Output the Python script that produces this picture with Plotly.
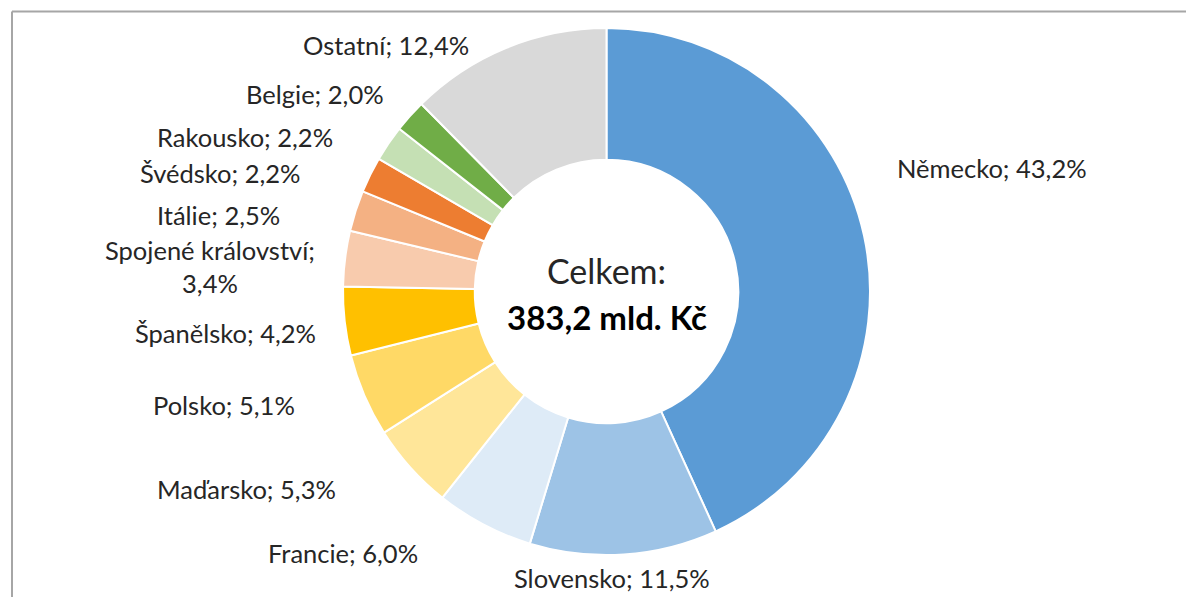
import plotly.graph_objects as go

# Export shares by destination country (% of total)
countries = ["Německo", "Slovensko", "Francie", "Maďarsko", "Polsko", "Španělsko",
             "Spojené království", "Itálie", "Švédsko", "Rakousko", "Belgie", "Ostatní"]
shares = [43.2, 11.5, 6.0, 5.3, 5.1, 4.2, 3.4, 2.5, 2.2, 2.2, 2.0, 12.4]
colors = ["#5B9BD5", "#9DC3E6", "#DEEBF7", "#FFE699", "#FFD966", "#FFC000",
          "#F8CBAD", "#F4B183", "#ED7D31", "#C5E0B4", "#70AD47", "#D9D9D9"]
total_label = "383,2 mld. Kč"

W, H = 1186, 597
FONT = "Lato, 'Open Sans', sans-serif"
FS = 25.5

# label centre positions in pixels (x, y from top)
label_pos = {
    "Německo": (992, 168),
    "Slovensko": (612, 578),
    "Francie": (343, 553),
    "Maďarsko": (246, 489),
    "Polsko": (224, 405),
    "Španělsko": (225, 333),
    "Spojené království": (210, 266),
    "Itálie": (218, 215),
    "Švédsko": (220, 173),
    "Rakousko": (245, 137),
    "Belgie": (315, 94),
    "Ostatní": (386, 45),
}


def fmt(v):
    return f"{v:.1f}".replace(".", ",") + "%"


cx, cy, r = 606.5, 291.5, 263.5

fig = go.Figure(go.Pie(
    labels=countries,
    values=shares,
    sort=False,
    direction="clockwise",
    rotation=0,
    hole=0.5,
    marker=dict(colors=colors, line=dict(color="white", width=2)),
    textinfo="none",
    showlegend=False,
    domain=dict(x=[(cx - r) / W, (cx + r) / W], y=[1 - (cy + r) / H, 1 - (cy - r) / H]),
))

annotations = []
for name, val in zip(countries, shares):
    px, py = label_pos[name]
    if name == "Spojené království":
        text = f"{name};<br>{fmt(val)}"
    else:
        text = f"{name}; {fmt(val)}"
    annotations.append(dict(
        x=px / W, y=1 - py / H, xref="paper", yref="paper",
        text=text, showarrow=False, xanchor="center", yanchor="middle",
        font=dict(family=FONT, size=FS, color="#262626"),
    ))

annotations.append(dict(
    x=cx / W, y=1 - 270 / H, xref="paper", yref="paper", text="Celkem:",
    showarrow=False, xanchor="center", yanchor="middle",
    font=dict(family=FONT, size=34, color="#262626"),
))
annotations.append(dict(
    x=cx / W, y=1 - 317 / H, xref="paper", yref="paper", text=f"<b>{total_label}</b>",
    showarrow=False, xanchor="center", yanchor="middle",
    font=dict(family=FONT, size=33, color="#000000"),
))

# chart frame (top and left edges)
shapes = [
    dict(type="line", xref="paper", yref="paper", x0=12 / W, x1=1.0, y0=1 - 11.5 / H, y1=1 - 11.5 / H,
         line=dict(color="#A6A6A6", width=2)),
    dict(type="line", xref="paper", yref="paper", x0=12 / W, x1=12 / W, y0=0, y1=1 - 11.5 / H,
         line=dict(color="#A6A6A6", width=2)),
]

fig.update_layout(
    width=W, height=H,
    margin=dict(l=0, r=0, t=0, b=0),
    paper_bgcolor="white", plot_bgcolor="white",
    annotations=annotations, shapes=shapes,
)

fig.write_html("out.html")
